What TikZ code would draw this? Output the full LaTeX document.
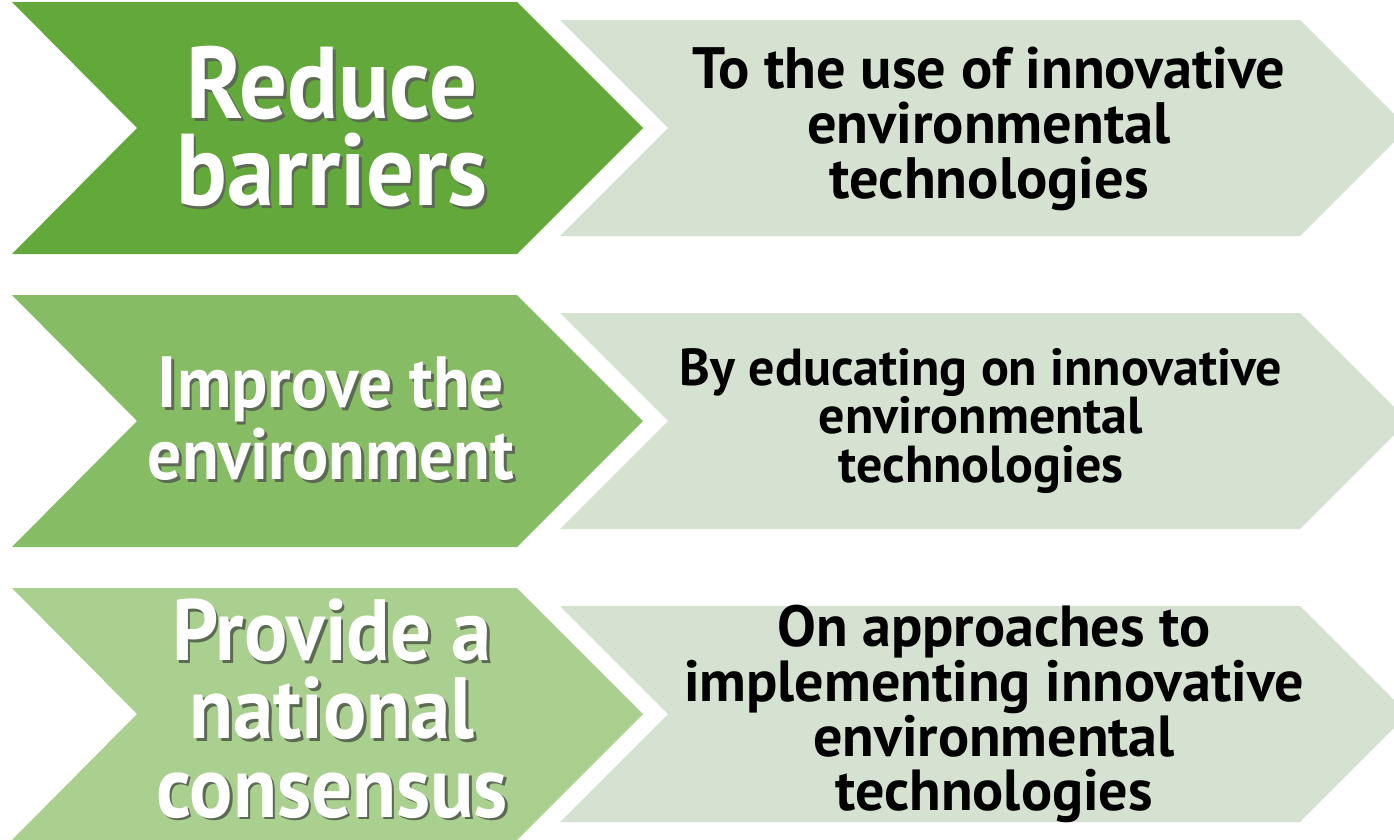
\documentclass[tikz,border=0pt]{standalone}
\usepackage{fontspec}
\newfontfamily\headfont[FakeStretch=0.93]{PT Sans}
\newfontfamily\notefont[FakeStretch=1.0]{PT Sans}
\definecolor{greenA}{HTML}{63A83A}
\definecolor{greenB}{HTML}{86BC63}
\definecolor{greenC}{HTML}{A9D08E}
\definecolor{paleA}{HTML}{D5E2D1}
\definecolor{shade}{HTML}{5C6A54}
% white word with a soft shadow below right:
\newcommand\shadowed[1]{\makebox[0pt][l]{\hspace{0.75pt}\raisebox{-0.75pt}{\color{shade}#1}}#1}
\begin{document}
\begin{tikzpicture}[x=0.01cm,y=-0.01cm,
  head/.style={text=white,align=center,inner sep=0pt},
  note/.style={text=black,align=center,inner sep=0pt}]
  \useasboundingbox (0,0) rectangle (1394,839);
  \clip (0,0) rectangle (1394,839);
  % dark chevrons:
  \foreach \y/\c in {128/greenA,421/greenB,714/greenC}
    \fill[\c] (12,\y-126) -- (517,\y-126) -- (643,\y) -- (517,\y+126)
      -- (12,\y+126) -- (137,\y) -- cycle;
  % pale chevrons:
  \foreach \y in {128,421,714}
    \fill[paleA] (560,\y-108) -- (1300,\y-108) -- (1408,\y) -- (1300,\y+108)
      -- (560,\y+108) -- (668,\y) -- cycle;
  % headings:
  \node[head,font={\headfont\bfseries\fontsize{29}{24.8}\selectfont}] (reduce) at (332,128)
    {\shadowed{Reduce}\\\shadowed{barriers}};
  \node[head,font={\headfont\bfseries\fontsize{20.6}{17}\selectfont}] (improve) at (331,420)
    {\shadowed{Improve the}\\\shadowed{environment}};
  \node[head,font={\headfont\bfseries\fontsize{24.7}{22.2}\selectfont}] (provide) at (332,710)
    {\shadowed{Provide a}\\\shadowed{national}\\\shadowed{consensus}};
  % notes:
  \node[note,font={\notefont\bfseries\fontsize{16.6}{15.6}\selectfont}] (usenote) at (989,129) {To the use of innovative\\environmental\\technologies};
  \node[note,font={\notefont\bfseries\fontsize{14.8}{13.7}\selectfont}] (educatenote) at (981,421) {By educating on innovative\\environmental\\technologies};
  \node[note,font={\notefont\bfseries\fontsize{16.5}{15.6}\selectfont}] (approachnote) at (994,714) {On approaches to\\implementing innovative\\environmental\\technologies};
\end{tikzpicture}
\end{document}
